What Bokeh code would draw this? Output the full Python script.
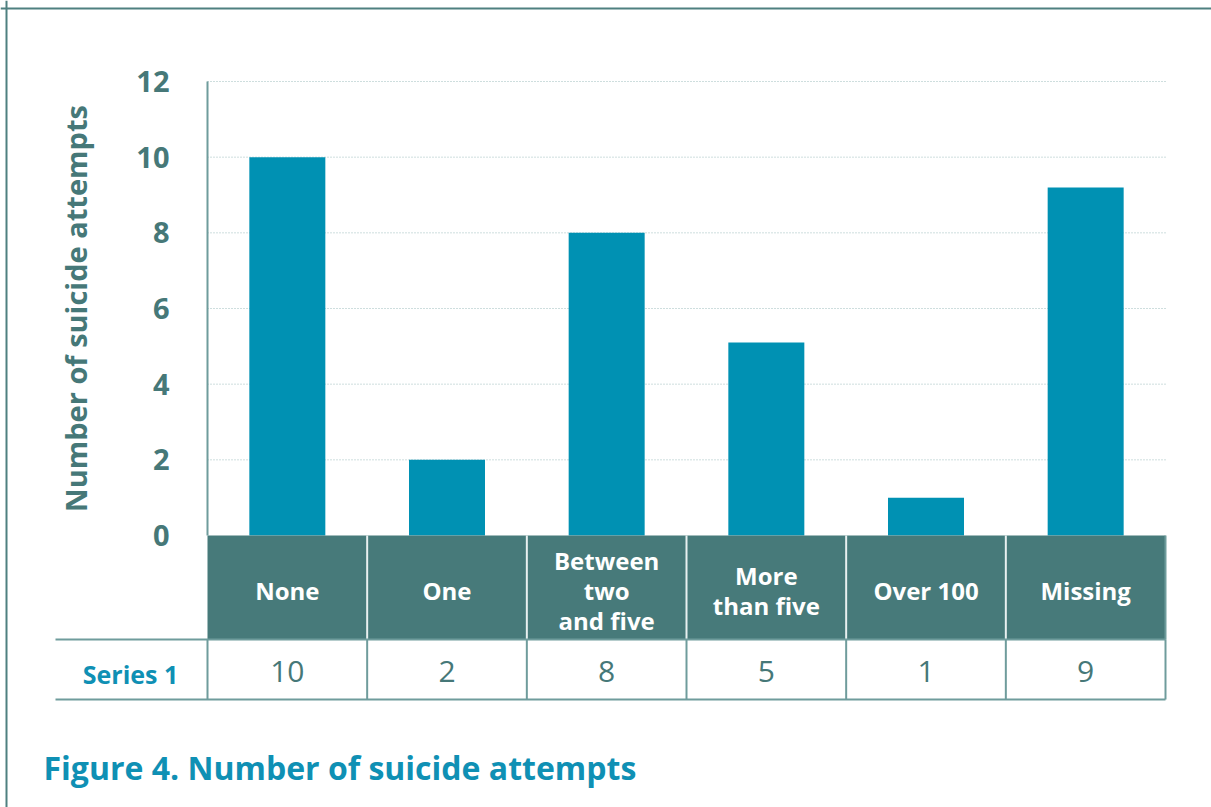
from bokeh.plotting import figure
from bokeh.models import Range1d, LinearAxis, FixedTicker, Span
from bokeh.embed import file_html
from bokeh.resources import INLINE
from bokeh.core.properties import value

# ---------------- data ----------------
categories = ["None", "One", "Between\ntwo\nand five", "More\nthan five", "Over 100", "Missing"]
bar_values = [10, 2, 8, 5.1, 1, 9.2]
table_values = ["10", "2", "8", "5", "1", "9"]
series_name = "Series 1"
y_ticks = [0, 2, 4, 6, 8, 10, 12]
y_title = "Number of suicide attempts"
title_text = "Figure 4. Number of suicide attempts"

# ---------------- layout constants (pixels) ----------------
W, H = 1211, 807
X0_PX, X6_PX = 207, 1165
Y0_PX, Y12_PX = 535, 81
band = (X6_PX - X0_PX) / len(categories)
unit = (Y0_PX - Y12_PX) / 12.0


def xpx(px):
    return (px - X0_PX) / band


def ypx(py):
    return (Y0_PX - py) / unit


FONT = "Open Sans"
BAR = "#0091b3"
HEAD = "#477a7a"
TXT = "#467878"
LINE = "#6f9c9c"
BLUE = "#0f90b4"

p = figure(width=W, height=H,
           x_range=Range1d(xpx(0), xpx(W)), y_range=Range1d(ypx(H), ypx(0)),
           output_backend="svg", toolbar_location=None, min_border=0,
           x_axis_type=None, y_axis_type=None)
p.outline_line_color = None
p.background_fill_color = "white"
p.border_fill_color = "white"

n = len(categories)
centers = [i + 0.5 for i in range(n)]

# grid lines (dotted)
grid_y = [t for t in y_ticks if t > 0]
p.segment(x0=[0] * len(grid_y), x1=[n] * len(grid_y), y0=grid_y, y1=grid_y,
          line_color="#9dbdbd", line_width=1, line_dash="1 2")

# bars
p.vbar(x=centers, top=bar_values, bottom=0, width=0.476, fill_color=BAR, line_color=None)

# y axis
yaxis = LinearAxis(fixed_location=0, bounds=(0, 12), ticker=FixedTicker(ticks=y_ticks))
yaxis.axis_line_color = LINE
yaxis.axis_line_width = 2
yaxis.major_tick_line_color = None
yaxis.minor_tick_line_color = None
yaxis.major_label_text_font = FONT
yaxis.major_label_text_font_style = "bold"
yaxis.major_label_text_font_size = "29px"
yaxis.major_label_text_color = TXT
yaxis.major_label_standoff = 32
yaxis.axis_label = y_title
yaxis.axis_label_text_font = FONT
yaxis.axis_label_text_font_style = "bold"
yaxis.axis_label_text_font_size = "29px"
yaxis.axis_label_text_color = TXT
yaxis.axis_label_standoff = 38
p.add_layout(yaxis, "left")

# table header
head_bottom = ypx(639)
row_bottom = ypx(699)
p.quad(left=[0], right=[n], top=[0], bottom=[head_bottom], fill_color=HEAD, line_color=None)
seps = list(range(1, n))
p.segment(x0=seps, x1=seps, y0=[0] * len(seps), y1=[head_bottom] * len(seps),
          line_color="#e8f0f0", line_width=2)
p.text(x=centers, y=[ypx(590)] * n, text=categories, text_align="center", text_baseline="middle",
       text_color="white", text_font=value(FONT), text_font_style="bold", text_font_size="24px",
       text_line_height=0.9)

# table data row
p.segment(x0=[xpx(55), xpx(55)], x1=[n, n], y0=[head_bottom, row_bottom], y1=[head_bottom, row_bottom],
          line_color=LINE, line_width=2)
vx = list(range(0, n + 1))
p.segment(x0=vx, x1=vx, y0=[head_bottom] * len(vx), y1=[row_bottom] * len(vx),
          line_color=LINE, line_width=2)
p.segment(x0=[n], x1=[n], y0=[0], y1=[head_bottom], line_color=LINE, line_width=2)
p.text(x=centers, y=[ypx(671)] * n, text=table_values, text_align="center", text_baseline="middle",
       text_color=TXT, text_font=value(FONT), text_font_size="30px")
p.text(x=[xpx(130)], y=[ypx(673)], text=[series_name], text_align="center", text_baseline="middle",
       text_color=BLUE, text_font=value(FONT), text_font_style="bold", text_font_size="25px")

# title
p.text(x=[xpx(43)], y=[ypx(767)], text=[title_text], text_align="left", text_baseline="middle",
       text_color=BLUE, text_font=value(FONT), text_font_style="bold", text_font_size="32px")

# outer frame border
p.add_layout(Span(location=xpx(6), dimension="height", line_color="#4f8080", line_width=2))
p.add_layout(Span(location=ypx(8), dimension="width", line_color="#4f8080", line_width=2))

open("out.html", "w").write(file_html(p, INLINE))
